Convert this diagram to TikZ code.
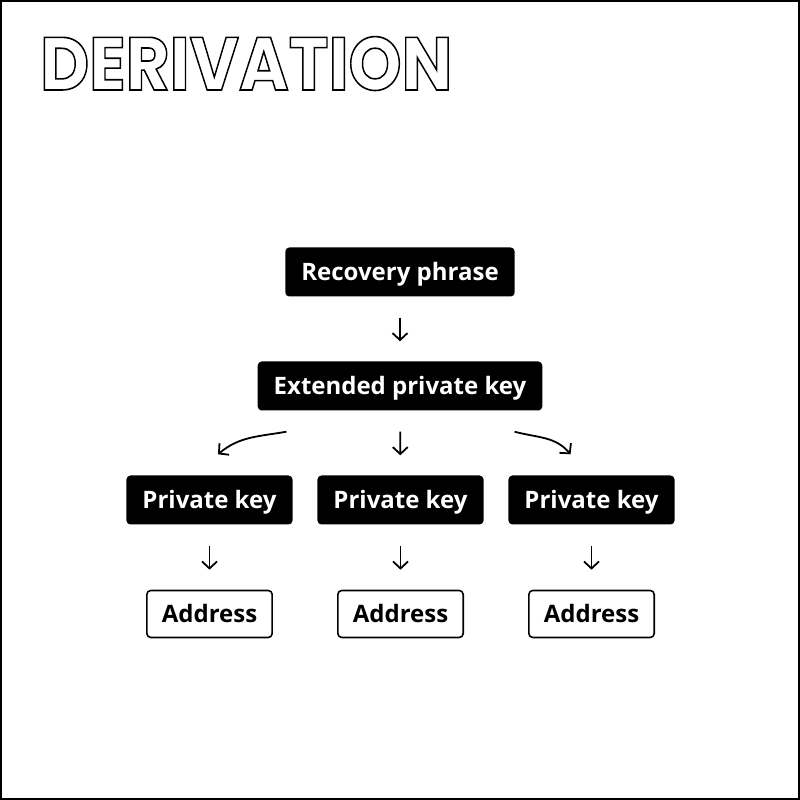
\documentclass[tikz,border=0pt]{standalone}
\usepackage{fontspec}
\setmainfont{Open Sans}
\newfontfamily\titlefont{Poppins}
\usetikzlibrary{arrows.meta,positioning,calc}
\tikzset{key box/.style={fill=black, text=white, rounded corners=4pt, minimum height=49pt, text height=17pt, text depth=0pt, inner xsep=16pt, font=\fontsize{24}{24}\selectfont\bfseries}}
\tikzset{addr box/.style={draw=black, line width=1.6pt, fill=white, text=black, rounded corners=4pt, minimum height=47pt, text height=17pt, text depth=0pt, inner xsep=15pt, font=\fontsize{24}{24}\selectfont\bfseries}}
\tikzset{deriv/.style={-{Straight Barb[length=7pt,width=15pt,line width=1.8pt]}, line width=1.8pt, shorten <=21pt, shorten >=20pt}}
\begin{document}
\begin{tikzpicture}[x=1pt, y=1pt]
  \useasboundingbox (0,0) rectangle (800,800);
  \draw[line width=2pt] (1,1) rectangle (799,799);
  % title
  \node[anchor=base west, inner sep=0pt, xscale=0.9, transform shape, font=\titlefont\fontsize{75}{75}\selectfont\bfseries] (title) at (40,710)
    {\special{pdf:literal direct 1 Tr 1.6 w}DERIVATION\special{pdf:literal direct 0 Tr}};
  \node[key box] at (400,528) (rp) {Recovery phrase};
  \node[key box] at (400,414) (epk) {Extended private key};
  \node[key box] at (209.5,300) (pk_1) {Private key};
  \node[key box] at (400.5,300) (pk_2) {Private key};
  \node[key box] at (591.5,300) (pk_3) {Private key};
  \node[addr box] at (209.5,186) (ad_1) {Address};
  \node[addr box] at (400.5,186) (ad_2) {Address};
  \node[addr box] at (591.5,186) (ad_3) {Address};
  \path (rp) edge[deriv] (epk);
  \path (epk) edge[deriv] (pk_2);
  \draw[deriv, shorten <=0pt, shorten >=0pt] ([xshift=29pt,yshift=-21pt]epk.south west) to[out=190,in=40] ([xshift=8.5pt,yshift=21pt]pk_1.north);
  \draw[deriv, shorten <=0pt, shorten >=0pt] ([xshift=-28pt,yshift=-21pt]epk.south east) to[out=-15,in=130] ([xshift=-21pt,yshift=21pt]pk_3.north);
  \foreach \i in {1,2,3}
    \path (pk_\i) edge[deriv] (ad_\i);
\end{tikzpicture}
\end{document}
